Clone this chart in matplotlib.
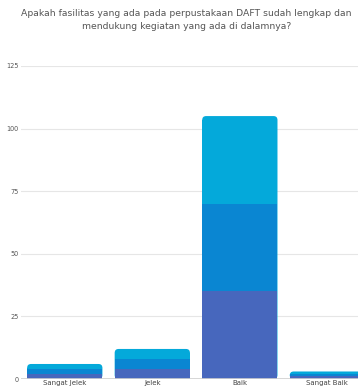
import matplotlib
matplotlib.use('Agg')
import matplotlib.pyplot as plt
from matplotlib.patches import FancyBboxPatch
import numpy as np

categories = ['Sangat Jelek', 'Jelek', 'Baik', 'Sangat Baik']
series_1 = [2, 4, 35, 1]
series_2 = [2, 4, 35, 1]
series_3 = [2, 4, 35, 1]
colors = ['#4767bd', '#0a86d2', '#04a9da']
title = 'Apakah fasilitas yang ada pada perpustakaan DAFT sudah lengkap dan\nmendukung kegiatan yang ada di dalamnya?'

fig = plt.figure(figsize=(3.58, 3.9), dpi=100)
ax = fig.add_axes([0.0587, 0.0282, 0.978, 0.8026])
ax.set_xlim(-0.5, 3.5)
ax.set_ylim(0, 125)

x = np.arange(len(categories))
width = 0.86
all_series = [series_1, series_2, series_3]
totals = np.sum(all_series, axis=0)

# rounded top for each stack, in the top colour
rx = 0.045
aspect = (125 / 313) / (4 / 350)  # data y-units per data x-unit for equal px
ry = rx * aspect
for xi, t in zip(x, totals):
    patch = FancyBboxPatch((xi - width / 2, 0), width, t,
                           boxstyle='round,pad=0,rounding_size=%f' % rx,
                           mutation_aspect=aspect, facecolor=colors[-1],
                           edgecolor='none', zorder=3)
    ax.add_patch(patch)
    ax.bar(xi, max(t - ry, 0), width, color=colors[-1], zorder=3)

bottom = np.zeros(len(categories))
for vals, col in zip(all_series[:-1], colors[:-1]):
    ax.bar(x, vals, width, bottom=bottom, color=col, zorder=4)
    bottom += np.array(vals)

ax.set_yticks([0, 25, 50, 75, 100, 125])
ax.set_xticks(x)
ax.set_xticklabels(categories, fontsize=5, color='#444444')
ax.tick_params(axis='y', labelsize=4.7, labelcolor='#555555', length=0, pad=2)
ax.tick_params(axis='x', length=0, pad=1)
for s in ax.spines.values():
    s.set_visible(False)
ax.grid(axis='y', color='#e6e6e6', linewidth=0.8, zorder=0)
ax.axhline(0, color='#d0d0d0', linewidth=1.2, zorder=5)

fig.text(0.52, 0.978, title, ha='center', va='top', fontsize=6.7, color='#555555',
         linespacing=1.7)

fig.savefig('out.png', dpi=100)
